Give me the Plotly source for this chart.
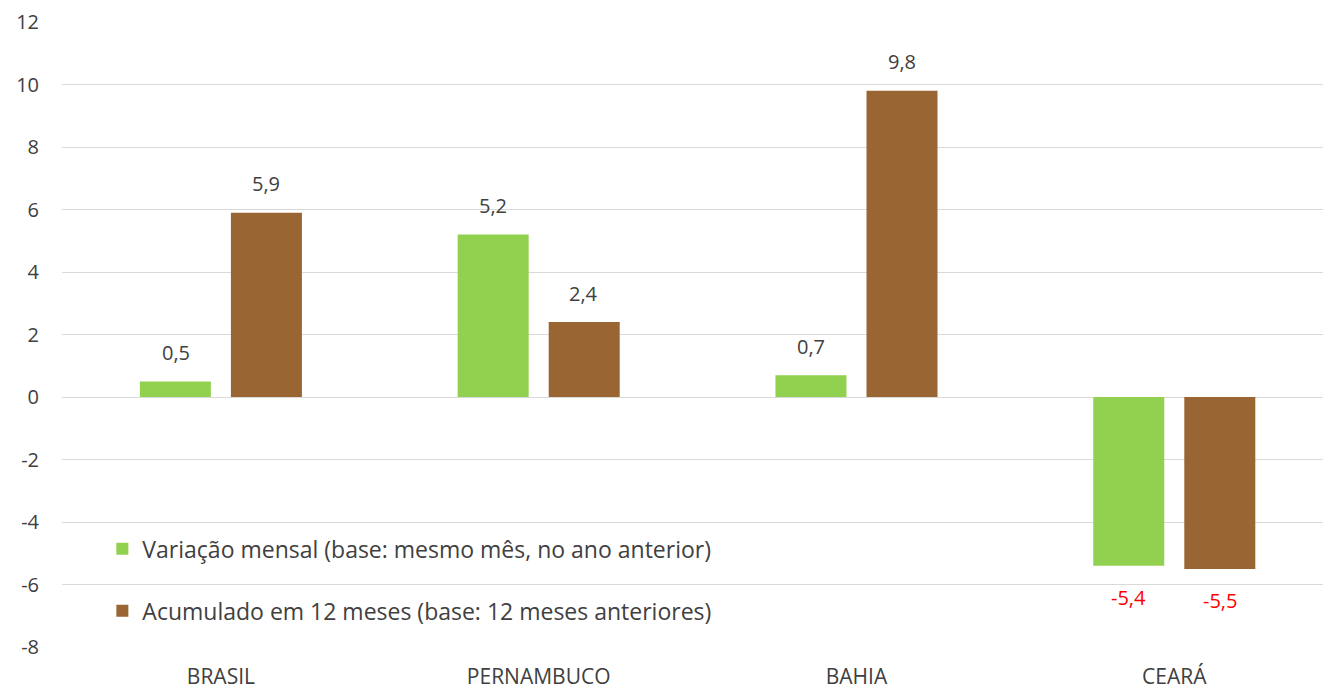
import plotly.graph_objects as go

# Categories and series values
estados = ["BRASIL", "PERNAMBUCO", "BAHIA", "CEARÁ"]
variacao_mensal = [0.5, 5.2, 0.7, -5.4]
acumulado_12m = [5.9, 2.4, 9.8, -5.5]
nome_mensal = "Variação mensal (base: mesmo mês, no ano anterior)"
nome_acumulado = "Acumulado em 12 meses (base: 12 meses anteriores)"
y_ticks = [-8, -6, -4, -2, 0, 2, 4, 6, 8, 10, 12]

VERDE = "#92D050"
MARROM = "#996633"
TEXTO = "#404040"
FONTE = "Open Sans"


def fmt(v):
    return f"{v:.1f}".replace(".", ",")


fig = go.Figure()
fig.add_trace(go.Bar(x=estados, y=variacao_mensal, name=nome_mensal,
                     marker=dict(color=VERDE, line=dict(width=0)),
                     showlegend=True, legend="legend"))
fig.add_trace(go.Bar(x=estados, y=acumulado_12m, name=nome_acumulado,
                     marker=dict(color=MARROM, line=dict(width=0)),
                     showlegend=True, legend="legend2"))

# Value labels above/below each bar
slot_px = 45.3
for serie, sinal in ((variacao_mensal, -1), (acumulado_12m, 1)):
    for cat, v in zip(estados, serie):
        fig.add_annotation(
            x=cat, y=v, xref="x", yref="y", text=fmt(v), showarrow=False,
            xshift=sinal * slot_px,
            yshift=29 if v >= 0 else -32,
            font=dict(family=FONTE, size=20,
                      color=TEXTO if v >= 0 else "#FF0000"),
        )

legend_common = dict(
    xanchor="left", yanchor="middle", bgcolor="rgba(0,0,0,0)",
    font=dict(family=FONTE, size=23, color=TEXTO),
)

fig.update_layout(
    width=1323, height=691,
    margin=dict(l=62, r=0, t=22, b=44, autoexpand=False),
    paper_bgcolor="white", plot_bgcolor="white",
    showlegend=True,
    barmode="group", bargap=0.427, bargroupgap=0.22,
    font=dict(family=FONTE, size=20, color=TEXTO),
    legend=dict(x=0.032, y=0.157, **legend_common),
    legend2=dict(x=0.032, y=0.058, **legend_common),
    xaxis=dict(range=[-0.5, 3.468], showgrid=False, zeroline=False,
               showline=False, ticks="", ticklabelstandoff=15,
               automargin=False,
               tickfont=dict(family=FONTE, size=21, color=TEXTO)),
    yaxis=dict(range=[-8, 12], tickvals=y_ticks,
               ticktext=[str(t) for t in y_ticks],
               showgrid=True, gridcolor="#D9D9D9", gridwidth=1,
               zeroline=True, zerolinecolor="#D9D9D9", zerolinewidth=1,
               showline=False, ticks="", ticklabelstandoff=22,
               automargin=False,
               tickfont=dict(family=FONTE, size=20, color=TEXTO)),
)

fig.write_html("out.html")
